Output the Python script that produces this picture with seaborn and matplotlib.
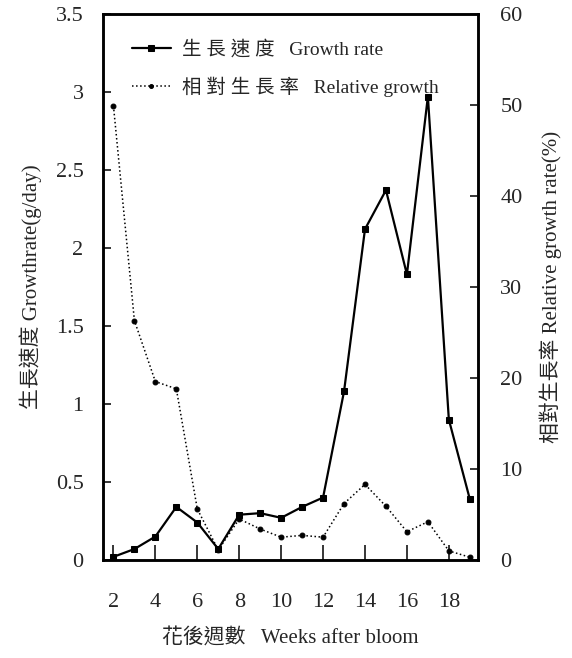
import numpy as np
import seaborn as sns
import matplotlib.pyplot as plt
from matplotlib.ticker import FuncFormatter

# Weeks after bloom
weeks = [2, 3, 4, 5, 6, 7, 8, 9, 10, 11, 12, 13, 14, 15, 16, 17, 18, 19]

# Growth rate (g/day), left axis
growth_rate = [0.02, 0.07, 0.15, 0.34, 0.24, 0.07, 0.29, 0.30, 0.27, 0.34,
               0.40, 1.08, 2.12, 2.37, 1.83, 2.97, 0.90, 0.39]

# Relative growth rate (%), right axis
relative_growth = [49.9, 26.3, 19.6, 18.8, 5.6, 1.1, 4.5, 3.4, 2.5, 2.7,
                   2.5, 6.2, 8.3, 5.9, 3.1, 4.2, 1.0, 0.3]

x_ticks = [2, 4, 6, 8, 10, 12, 14, 16, 18]
left_ticks = [0, 0.5, 1, 1.5, 2, 2.5, 3, 3.5]
right_ticks = [0, 10, 20, 30, 40, 50, 60]

sns.set_style("ticks")
plt.rcParams['font.family'] = ['Liberation Serif', 'Noto Sans CJK TC']

fig = plt.figure(figsize=(5.72, 6.58), dpi=100)
ax = fig.add_axes([0.180, 0.149, 0.656, 0.830])
ax2 = ax.twinx()

sns.lineplot(x=weeks, y=growth_rate, ax=ax, color='black', linewidth=1.6,
             marker='s', markersize=5, markeredgecolor='black',
             label='生 長 速 度   Growth rate', legend=False)
sns.lineplot(x=weeks, y=relative_growth, ax=ax2, color='black', linewidth=1.1,
             linestyle=':', marker='o', markersize=3.5, markeredgecolor='black',
             label='相 對 生 長 率   Relative growth', legend=False)

ax.set_xlim(1.5, 19.4)
ax.set_ylim(0, 3.5)
ax2.set_ylim(0, 60)

ax.set_xticks(x_ticks)
ax.set_yticks(left_ticks)
ax2.set_yticks(right_ticks)
ax.yaxis.set_major_formatter(FuncFormatter(lambda v, p: f'{v:g}'))

ax.tick_params(axis='x', direction='in', length=11, width=1.3, pad=24, labelsize=16)
ax.tick_params(axis='y', direction='in', length=6, width=1.3, pad=14, labelsize=16)
ax2.tick_params(axis='y', direction='in', length=6, width=1.3, pad=16, labelsize=16)

for a in (ax, ax2):
    for side in ['left', 'right', 'top', 'bottom']:
        a.spines[side].set_visible(True)
        a.spines[side].set_linewidth(1.8)
        a.spines[side].set_color('black')

ax.set_xlabel('花後週數   Weeks after bloom', fontsize=15, labelpad=12)
ax.set_ylabel('生長速度 Growthrate(g/day)', fontsize=15, labelpad=10)
ax2.set_ylabel('相對生長率 Relative growth rate(%)', fontsize=15,
               rotation=90, labelpad=12)

handles = ax.get_lines() + ax2.get_lines()
ax.legend(handles=handles, labels=[h.get_label() for h in handles],
          loc='upper left', bbox_to_anchor=(0.03, 0.985), frameon=False,
          fontsize=14, handlelength=2.0, handletextpad=0.6, labelspacing=0.95,
          markerscale=0.8)

plt.savefig('out.png', dpi=100)
